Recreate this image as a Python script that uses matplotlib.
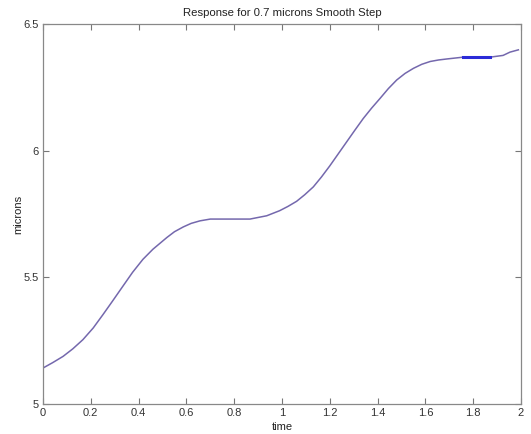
import matplotlib
matplotlib.use("Agg")
import matplotlib.pyplot as plt

# Data
time = [0, 0.04, 0.084, 0.125, 0.167, 0.21, 0.251, 0.29, 0.335, 0.375, 0.418, 0.46, 0.518,
        0.55, 0.587, 0.62, 0.657, 0.70, 0.78, 0.866, 0.936, 0.99, 1.025, 1.061, 1.095, 1.131,
        1.165, 1.2, 1.235, 1.27, 1.305, 1.34, 1.375, 1.41, 1.445, 1.48, 1.515, 1.55,
        1.585, 1.62, 1.655, 1.69, 1.757, 1.81, 1.87, 1.925, 1.954, 1.989]
microns = [5.142, 5.163, 5.188, 5.218, 5.254, 5.300, 5.353, 5.405, 5.466, 5.520, 5.571, 5.611,
           5.657, 5.680, 5.699, 5.713, 5.723, 5.730, 5.730, 5.730, 5.743, 5.763, 5.780, 5.800,
           5.826, 5.857, 5.896, 5.940, 5.987, 6.034, 6.081, 6.127, 6.168, 6.206, 6.245, 6.279,
           6.305, 6.325, 6.341, 6.352, 6.358, 6.362, 6.369, 6.369, 6.369, 6.376, 6.389, 6.398]
seg_time = [1.757, 1.81, 1.87]
seg_microns = [6.369, 6.369, 6.369]

x_ticks = [0, 0.2, 0.4, 0.6, 0.8, 1, 1.2, 1.4, 1.6, 1.8, 2]
x_tick_labels = ["0", "0.2", "0.4", "0.6", "0.8", "1", "1.2", "1.4", "1.6", "1.8", "2"]
y_ticks = [5, 5.5, 6, 6.5]
y_tick_labels = ["5", "5.5", "6", "6.5"]

plt.rcParams['font.family'] = ['Liberation Sans', 'DejaVu Sans']

fig = plt.figure(figsize=(5.31, 4.34), dpi=100)
ax = fig.add_axes([43/531, 30/434, 478/531, 380/434])

ax.plot(time, microns, color='#7468ad', lw=1.1)
ax.plot(seg_time, seg_microns, color='#2b2bd8', lw=2.2)

ax.set_xlim(0, 2)
ax.set_ylim(5, 6.5)
ax.set_xticks(x_ticks)
ax.set_xticklabels(x_tick_labels)
ax.set_yticks(y_ticks)
ax.set_yticklabels(y_tick_labels)
ax.tick_params(direction='in', top=True, right=True, length=4, width=0.8,
               colors='#777777', labelcolor='#333333', labelsize=8, pad=3)
for s in ax.spines.values():
    s.set_color('#888888')
    s.set_linewidth(0.9)

ax.set_title('Response for 0.7 microns Smooth Step', fontsize=8.2, color='#222222', pad=6)
ax.set_xlabel('time', fontsize=8, color='#222222', labelpad=3)
ax.set_ylabel('microns', fontsize=8, color='#222222', labelpad=0)

fig.savefig('out.png', dpi=100)
